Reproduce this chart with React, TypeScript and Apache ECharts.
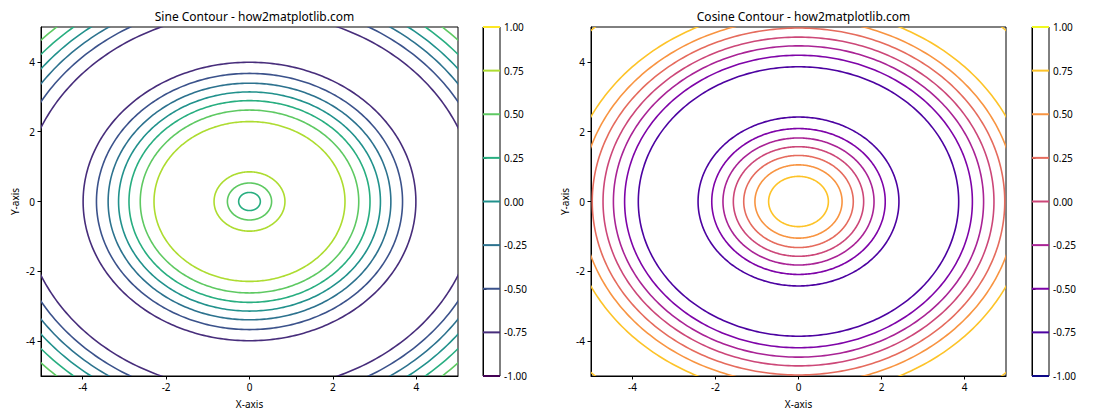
import React, { useEffect, useRef } from "react";
import * as echarts from "echarts";

// Contour levels and their colours (viridis / plasma sampled at the level positions)
const levels = [-1, -0.75, -0.5, -0.25, 0, 0.25, 0.5, 0.75, 1];
const sineColors = ["#440154", "#472d7b", "#3b528b", "#2c728e", "#21918c", "#28ae80", "#5ec962", "#addc30", "#fde725"];
const cosineColors = ["#0d0887", "#4c02a1", "#7e03a8", "#a92395", "#cc4778", "#e56b5d", "#f89441", "#fdc328", "#f0f921"];

// Contour rings: radius (in axis units) and level
const sineRadii = [0.26, 0.53, 0.85, 2.29, 2.62, 2.89, 3.14, 3.39, 3.67, 3.99, 5.43, 5.76, 6.03, 6.28, 6.54, 6.81];
const sineLevels = [0.25, 0.5, 0.75, 0.75, 0.5, 0.25, 0, -0.25, -0.5, -0.75, -0.75, -0.5, -0.25, 0, 0.25, 0.5];
const cosineRadii = [0.72, 1.05, 1.32, 1.57, 1.82, 2.09, 2.42, 3.86, 4.19, 4.46, 4.71, 4.97, 5.24, 5.56, 7.0];
const cosineLevels = [0.75, 0.5, 0.25, 0, -0.25, -0.5, -0.75, -0.75, -0.5, -0.25, 0, 0.25, 0.5, 0.75, 0.75];

const axisTicks = [-4, -2, 0, 2, 4];
const titles = ["Sine Contour - how2matplotlib.com", "Cosine Contour - how2matplotlib.com"];

const FONT = "Noto Sans";

function colorFor(palette: string[], level: number) {
  const i = levels.findIndex((l) => Math.abs(l - level) < 1e-9);
  return palette[i < 0 ? 0 : i];
}

function ringRenderer(palette: string[]) {
  return (params: any, api: any) => {
    const r = api.value(0);
    const level = api.value(1);
    const pts: number[][] = [];
    const N = 360;
    for (let k = 0; k <= N; k++) {
      const a = (k / N) * Math.PI * 2;
      pts.push(api.coord([r * Math.cos(a), r * Math.sin(a)]));
    }
    const cs = params.coordSys;
    return {
      type: "polyline",
      shape: { points: pts },
      style: { stroke: colorFor(palette, level), fill: "none", lineWidth: 1.6 },
      clipPath: { type: "rect", shape: { x: cs.x, y: cs.y, width: cs.width, height: cs.height } },
    };
  };
}

function barRenderer(palette: string[]) {
  return (_params: any, api: any) => {
    const level = api.value(1);
    const p0 = api.coord([0, level]);
    const p1 = api.coord([1, level]);
    return {
      type: "line",
      shape: { x1: p0[0], y1: p0[1], x2: p1[0], y2: p1[1] },
      style: { stroke: colorFor(palette, level), lineWidth: 2 },
    };
  };
}

const tickLabel = (v: number) => String(v);

export default function App() {
  const ref = useRef<HTMLDivElement>(null);
  useEffect(() => {
    if (!ref.current) return;
    const chart = echarts.init(ref.current, undefined, { renderer: "svg" });

    const plots = [
      { left: 41, width: 417, cbLeft: 483 },
      { left: 591, width: 415, cbLeft: 1032 },
    ];
    const top = 27;
    const height = 349;

    const grids: any[] = [];
    const xAxes: any[] = [];
    const yAxes: any[] = [];
    plots.forEach((p) => {
      grids.push({ left: p.left, top, width: p.width, height, show: true, borderColor: "#000", borderWidth: 1, backgroundColor: "#fff" });
      grids.push({ left: p.cbLeft, top, width: 17, height, show: true, borderColor: "#000", borderWidth: 1 });
    });

    const mainX = (gi: number) => ({
      gridIndex: gi,
      type: "value",
      min: -5,
      max: 5,
      name: "X-axis",
      nameLocation: "middle",
      nameGap: 23,
      nameTextStyle: { color: "#000", fontSize: 10, fontFamily: FONT },
      axisLine: { show: true, onZero: false, lineStyle: { color: "#000", width: 1 } },
      axisTick: { show: true, length: 3.5, customValues: axisTicks, lineStyle: { color: "#000" } },
      axisLabel: { customValues: axisTicks, formatter: tickLabel, color: "#000", fontSize: 10, fontFamily: FONT, margin: 6 },
      splitLine: { show: false },
    });
    const mainY = (gi: number) => ({
      gridIndex: gi,
      type: "value",
      min: -5,
      max: 5,
      name: "Y-axis",
      nameLocation: "middle",
      nameGap: 21,
      nameTextStyle: { color: "#000", fontSize: 10, fontFamily: FONT },
      axisLine: { show: true, onZero: false, lineStyle: { color: "#000", width: 1 } },
      axisTick: { show: true, length: 3.5, customValues: axisTicks, lineStyle: { color: "#000" } },
      axisLabel: { customValues: axisTicks, formatter: tickLabel, color: "#000", fontSize: 10, fontFamily: FONT, margin: 6 },
      splitLine: { show: false },
    });
    const cbX = (gi: number) => ({ gridIndex: gi, type: "value", min: 0, max: 1, show: false });
    const cbY = (gi: number) => ({
      gridIndex: gi,
      type: "value",
      position: "right",
      min: -1,
      max: 1,
      interval: 0.25,
      axisLine: { show: true, lineStyle: { color: "#000", width: 1 } },
      axisTick: { show: true, length: 3.5, lineStyle: { color: "#000" } },
      axisLabel: { formatter: (v: number) => v.toFixed(2), color: "#000", fontSize: 10, fontFamily: FONT, margin: 4 },
      splitLine: { show: false },
    });

    xAxes.push(mainX(0), cbX(1), mainX(2), cbX(3));
    yAxes.push(mainY(0), cbY(1), mainY(2), cbY(3));

    const sineData = sineRadii.map((r, i) => [r, sineLevels[i]]);
    const cosineData = cosineRadii.map((r, i) => [r, cosineLevels[i]]);
    const barData = levels.map((l) => [0.5, l]);

    const option: any = {
      animation: false,
      backgroundColor: "#fff",
      textStyle: { fontFamily: FONT },
      title: [
        { text: titles[0], left: 249.5, top: 5, textAlign: "center", textStyle: { fontSize: 12, fontWeight: "normal", color: "#000", fontFamily: FONT } },
        { text: titles[1], left: 798.5, top: 5, textAlign: "center", textStyle: { fontSize: 12, fontWeight: "normal", color: "#000", fontFamily: FONT } },
      ],
      grid: grids,
      xAxis: xAxes,
      yAxis: yAxes,
      series: [
        { type: "custom", xAxisIndex: 0, yAxisIndex: 0, clip: true, data: sineData, renderItem: ringRenderer(sineColors), silent: true },
        { type: "custom", xAxisIndex: 1, yAxisIndex: 1, data: barData, renderItem: barRenderer(sineColors), silent: true },
        { type: "custom", xAxisIndex: 2, yAxisIndex: 2, clip: true, data: cosineData, renderItem: ringRenderer(cosineColors), silent: true },
        { type: "custom", xAxisIndex: 3, yAxisIndex: 3, data: barData, renderItem: barRenderer(cosineColors), silent: true },
      ],
    };
    chart.setOption(option);
    return () => chart.dispose();
  }, []);

  return <div ref={ref} style={{ position: "fixed", left: 0, top: 0, width: 1120, height: 420 }} />;
}
